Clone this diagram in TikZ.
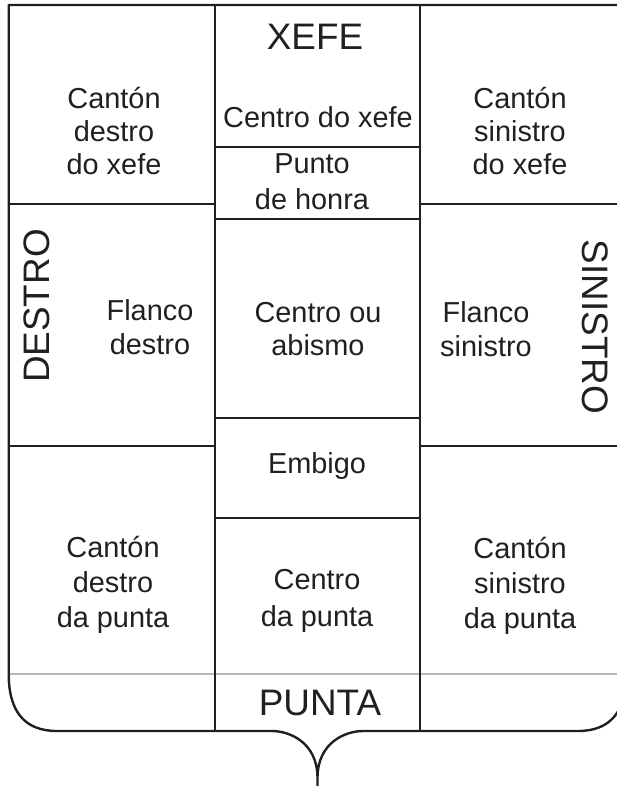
\documentclass[tikz,border=0pt]{standalone}
\usepackage{fontspec}
\setmainfont{Liberation Sans}
\definecolor{ink}{HTML}{231F20}
\definecolor{faint}{HTML}{B8B8B8}
\begin{document}
\begin{tikzpicture}[x=1bp,y=-1bp,
  frame/.style={draw=ink,line width=2.4bp,line join=round},
  rule/.style={draw=ink,line width=2bp},
  faintrule/.style={draw=faint,line width=1.4bp},
  cell/.style={align=center,text=ink,inner sep=0pt,font=\fontsize{29}{33.5}\selectfont},
  wide/.style={font=\fontsize{29}{36.5}\selectfont},
  mid/.style={font=\fontsize{29}{35}\selectfont},
  big/.style={text=ink,inner sep=0pt,font=\fontsize{37}{40}\selectfont}]
\useasboundingbox (0,0) rectangle (617,786);
\clip (0,0) rectangle (617,786);
% faint line
\draw[faintrule] (8.7,674) -- (626.3,674);
% inner rules
\draw[rule] (214.5,5) -- (214.5,731);
\draw[rule] (419.5,5) -- (419.5,731);
\draw[rule] (214.5,147.3) -- (419.5,147.3);
\draw[rule] (214.5,218.5) -- (419.5,218.5);
\draw[rule] (214.5,417.7) -- (419.5,417.7);
\draw[rule] (214.5,517.7) -- (419.5,517.7);
\draw[rule] (8.7,204.3) -- (214.5,204.3);
\draw[rule] (419.5,204.3) -- (626.3,204.3);
\draw[rule] (8.7,446) -- (214.5,446);
\draw[rule] (419.5,446) -- (626.3,446);
% outer shield
\draw[frame] (8.7,5) -- (8.7,674)
  .. controls (8.7,712) and (25,731) .. (57,731)
  -- (272,731)
  .. controls (289,731) and (317.5,742) .. (317.5,778)
  -- (317.5,786) -- (317.5,778)
  .. controls (317.5,742) and (346,731) .. (363,731)
  -- (578,731)
  .. controls (610,731) and (626.3,712) .. (626.3,674)
  -- (626.3,5) -- cycle;
% texts
\node[cell] (cdx) at (114,131) {Cantón\\destro\\do xefe};
\node[big] (xefe) at (315,37) {XEFE};
\node[cell] (cx) at (318,117) {Centro do xefe};
\node[cell,wide] (ph) at (312,182) {Punto\\de honra};
\node[cell] (csx) at (520,131) {Cantón\\sinistro\\do xefe};
\node[big,rotate=90] (destro) at (37,306) {DESTRO};
\node[cell] (fd) at (150,327) {Flanco\\destro};
\node[cell] (ca) at (318,329) {Centro ou\\abismo};
\node[cell] (fs) at (486,329) {Flanco\\sinistro};
\node[big,rotate=-90] (sinistro) at (595,327) {SINISTRO};
\node[cell] (emb) at (317,466) {Embigo};
\node[cell,mid] (cdp) at (113,585) {Cantón\\destro\\da punta};
\node[cell,wide] (cp) at (317,601) {Centro\\da punta};
\node[cell,mid] (csp) at (520,586) {Cantón\\sinistro\\da punta};
\node[big] (punta) at (320,703) {PUNTA};
\end{tikzpicture}
\end{document}
